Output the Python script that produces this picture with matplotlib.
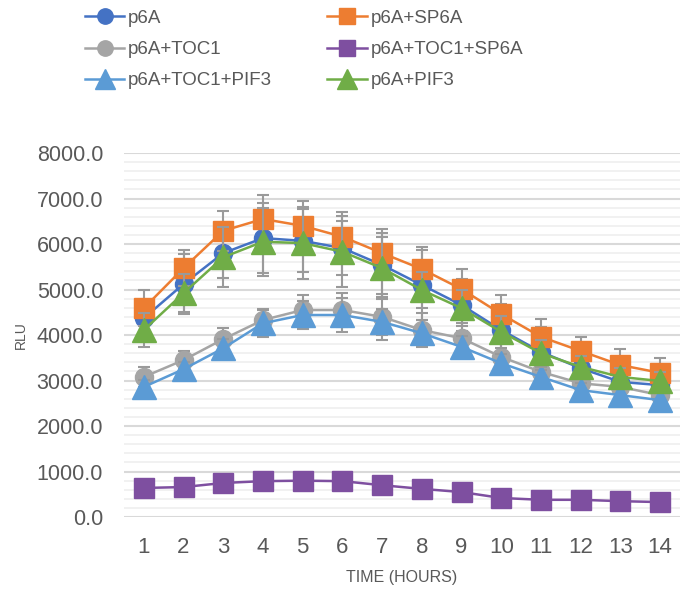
import matplotlib.pyplot as plt
from matplotlib.ticker import MultipleLocator, FormatStrFormatter

plt.rcParams['font.family'] = ['Liberation Sans', 'DejaVu Sans']

# hours on the x axis
hours = list(range(1, 15))

# mean RLU per construct
p6a = [4370, 5120, 5800, 6130, 6070, 5910, 5540, 5100, 4660, 4110, 3630, 3270, 2970, 2900]
p6a_sp6a = [4590, 5470, 6290, 6550, 6400, 6160, 5800, 5450, 5010, 4460, 3960, 3650, 3340, 3170]
p6a_toc1 = [3080, 3450, 3910, 4330, 4550, 4550, 4400, 4110, 3930, 3520, 3190, 2940, 2860, 2680]
p6a_toc1_sp6a = [640, 660, 750, 790, 800, 790, 700, 620, 550, 420, 380, 380, 350, 330]
p6a_toc1_pif3 = [2860, 3250, 3710, 4260, 4440, 4440, 4290, 4040, 3740, 3380, 3080, 2790, 2680, 2570]
p6a_pif3 = [4110, 4920, 5710, 6050, 6020, 5830, 5470, 4990, 4590, 4070, 3600, 3300, 3080, 2990]

# error bars (estimated)
err_p6a = [350, 650, 550, 770, 690, 600, 700, 770, 570, 570, 550, 300, 300, 250]
err_sp6a = [400, 400, 440, 530, 550, 540, 530, 480, 440, 420, 390, 310, 350, 320]
err_toc1 = [220, 200, 250, 250, 320, 370, 500, 370, 330, 300, 250, 200, 200, 200]
err_toc1_sp6a = [80, 80, 70, 60, 70, 70, 100, 80, 90, 70, 60, 50, 50, 50]
err_toc1_pif3 = [150, 150, 200, 300, 300, 370, 290, 280, 250, 200, 150, 150, 150, 150]
err_pif3 = [370, 420, 660, 750, 790, 780, 680, 400, 400, 350, 300, 250, 200, 200]

series = [
    ('p6A', p6a, err_p6a, '#4472C4', 'o', 13),
    ('p6A+SP6A', p6a_sp6a, err_sp6a, '#ED7D31', 's', 14),
    ('p6A+TOC1', p6a_toc1, err_toc1, '#A5A5A5', 'o', 13),
    ('p6A+TOC1+SP6A', p6a_toc1_sp6a, err_toc1_sp6a, '#7E4FA0', 's', 14),
    ('p6A+TOC1+PIF3', p6a_toc1_pif3, err_toc1_pif3, '#5B9BD5', '^', 17),
    ('p6A+PIF3', p6a_pif3, err_pif3, '#70AD47', '^', 17),
]

fig = plt.figure(figsize=(6.81, 5.93), dpi=100)
ax = fig.add_axes([0.182, 0.128, 0.8165, 0.614])

handles = {}
for i, (name, vals, err, col, mk, ms) in enumerate(series):
    ax.errorbar(hours, vals, yerr=err, fmt='none', ecolor='#9A9A9A',
                elinewidth=1.5, capsize=4.5, capthick=1.5, zorder=2 + 2 * i)
    line, = ax.plot(hours, vals, color=col, marker=mk, markersize=ms,
                    linewidth=1.8, label=name, zorder=3 + 2 * i)
    handles[name] = line

ax.set_xlim(0.5, 14.5)
ax.set_ylim(0, 8000)
ax.set_xticks(hours)
ax.yaxis.set_major_locator(MultipleLocator(1000))
ax.yaxis.set_minor_locator(MultipleLocator(200))
ax.yaxis.set_major_formatter(FormatStrFormatter('%.1f'))

ax.grid(axis='y', which='major', color='#D9D9D9', linewidth=1.5, zorder=0)
ax.grid(axis='y', which='minor', color='#EFEFEF', linewidth=1.2, zorder=0)
ax.set_axisbelow(True)
for s in ax.spines.values():
    s.set_visible(False)

ax.tick_params(axis='y', which='both', length=0, labelsize=15.5, colors='#595959', pad=15)
ax.tick_params(axis='x', length=0, labelsize=16, colors='#595959', pad=14)

ax.set_ylabel('RLU', fontsize=10, color='#595959', labelpad=6)
ax.set_xlabel('TIME (HOURS)', fontsize=11.5, color='#595959', labelpad=9)

order = ['p6A', 'p6A+TOC1', 'p6A+TOC1+PIF3', 'p6A+SP6A', 'p6A+TOC1+SP6A', 'p6A+PIF3']
fig.legend([handles[n] for n in order], order, ncol=2, loc='upper left',
           bbox_to_anchor=(0.10, 1.012), frameon=False, fontsize=13.5,
           labelcolor='#595959', handlelength=2.1, handletextpad=0.2,
           columnspacing=2.95, labelspacing=0.75, markerscale=0.85)

fig.savefig('out.png', dpi=100)
